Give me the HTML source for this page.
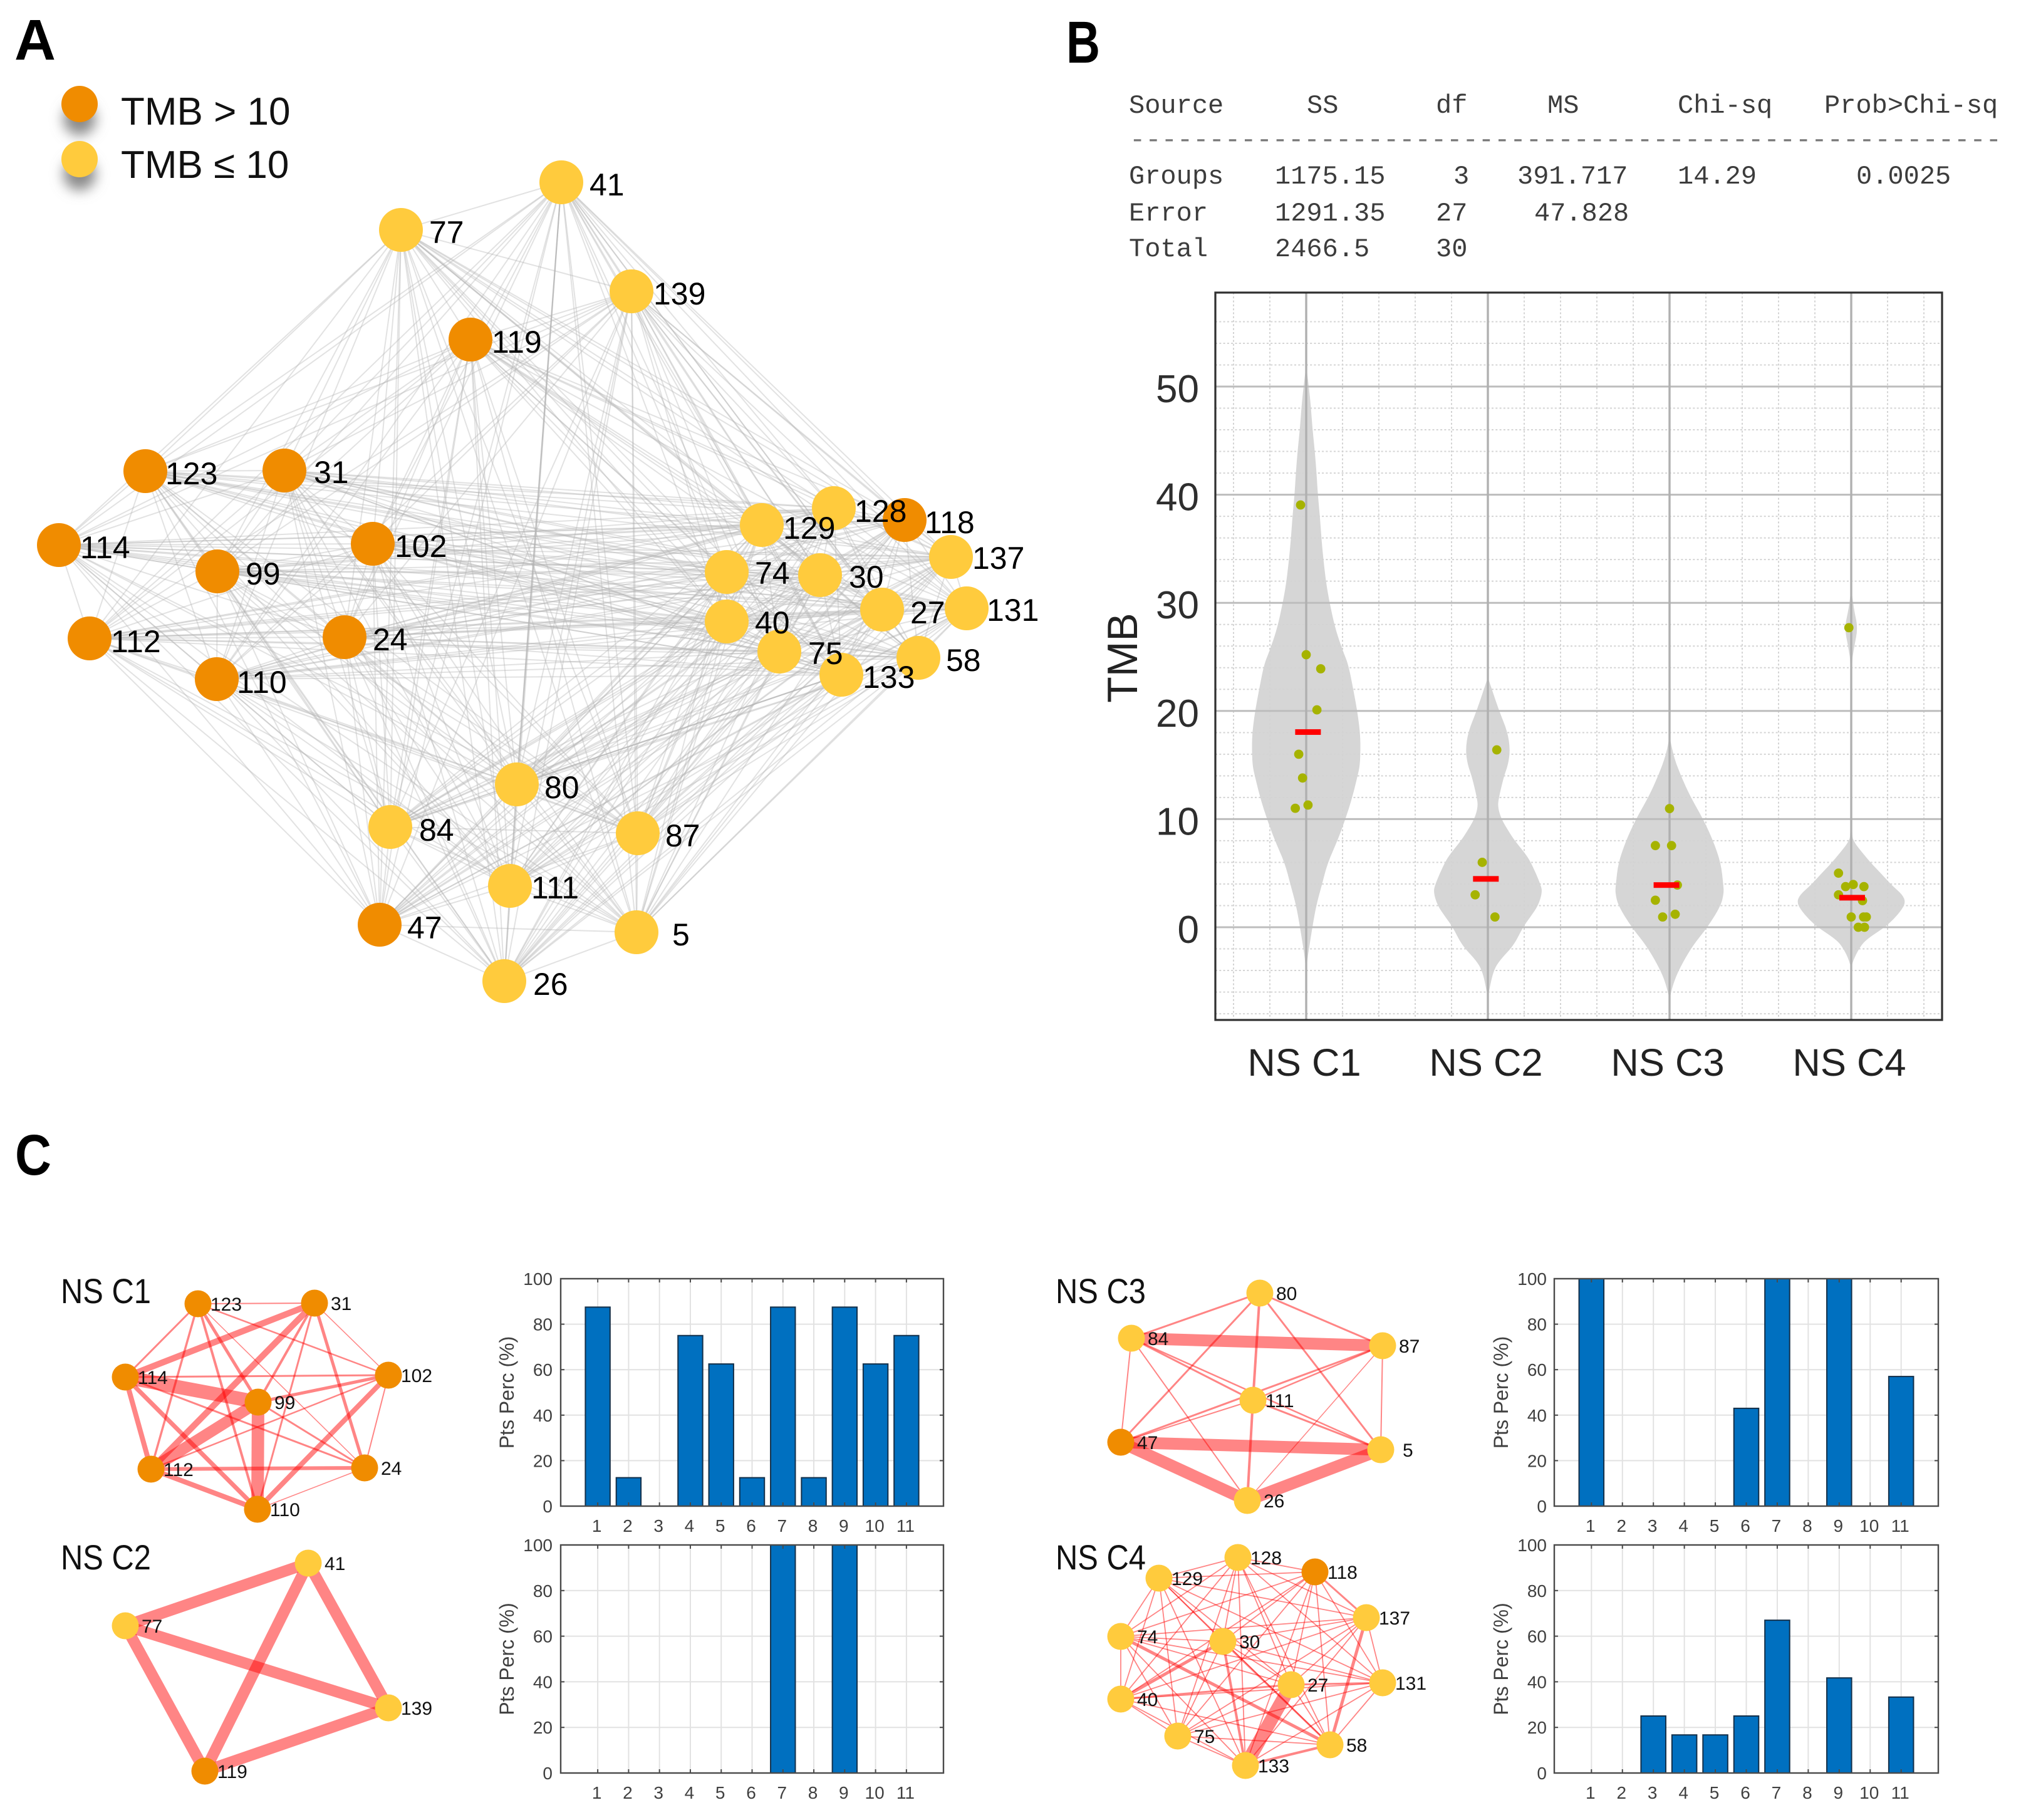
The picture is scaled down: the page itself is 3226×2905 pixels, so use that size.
<!DOCTYPE html>
<html lang="en">
<head>
<meta charset="utf-8">
<title>TMB network figure</title>
<style>
html,body{margin:0;padding:0;background:#fff;}
svg{display:block;font-family:"Liberation Sans",sans-serif;}
</style>
</head>
<body>
<svg id="figure" xmlns="http://www.w3.org/2000/svg" width="3226" height="2905" viewBox="0 0 3226 2905">
  <defs>
    <filter id="legend-blur" x="-80%" y="-80%" width="260%" height="260%"><feGaussianBlur stdDeviation="10"/></filter>
  </defs>
  <rect x="0" y="0" width="3226" height="2905" fill="#ffffff"/>

  <text x="23" y="95" font-size="92" font-weight="700" fill="#000" textLength="66" lengthAdjust="spacingAndGlyphs">A</text>
  <text x="1702" y="100" font-size="95" font-weight="700" fill="#000" textLength="54" lengthAdjust="spacingAndGlyphs">B</text>
  <text x="24" y="1875" font-size="92" font-weight="700" fill="#000" textLength="58" lengthAdjust="spacingAndGlyphs">C</text>

  <g id="panel-a"></g>

  <g>
    <circle cx="127" cy="190" r="26" fill="#8a8a8a" filter="url(#legend-blur)"/>
    <circle cx="127" cy="278" r="26" fill="#8a8a8a" filter="url(#legend-blur)"/>
    <circle cx="127" cy="166" r="29" fill="#F08C00"/>
    <circle cx="127" cy="254" r="29" fill="#FFCB3D"/>
    <text x="193" y="199" font-size="62" fill="#111">TMB &gt; 10</text>
    <text x="193" y="284" font-size="62" fill="#111">TMB ≤ 10</text>
  </g>

  <g font-family="'Liberation Mono',monospace" font-size="42" fill="#3c3c3c">
    <text x="1802" y="180">Source</text>
    <text x="2086" y="180">SS</text>
    <text x="2292" y="180">df</text>
    <text x="2470" y="180">MS</text>
    <text x="2678" y="180">Chi-sq</text>
    <text x="2912" y="180">Prob&gt;Chi-sq</text>
    <text x="1803" y="235" fill="#777" textLength="1392" lengthAdjust="spacingAndGlyphs">-------------------------------------------------------</text>
    <text x="1802" y="293">Groups</text>
    <text x="2035" y="293">1175.15</text>
    <text x="2320" y="293">3</text>
    <text x="2422" y="293">391.717</text>
    <text x="2678" y="293">14.29</text>
    <text x="2963" y="293">0.0025</text>
    <text x="1802" y="352">Error</text>
    <text x="2035" y="352">1291.35</text>
    <text x="2292" y="352">27</text>
    <text x="2449" y="352">47.828</text>
    <text x="1802" y="409">Total</text>
    <text x="2035" y="409">2466.5</text>
    <text x="2292" y="409">30</text>
  </g>

  <g id="panel-b"></g>
  <text transform="translate(1815 1050) rotate(-90)" text-anchor="middle" font-size="68" fill="#222">TMB</text>

  <text x="97" y="2080" font-size="56" fill="#111" textLength="144" lengthAdjust="spacingAndGlyphs">NS C1</text>
  <text x="97" y="2505" font-size="56" fill="#111" textLength="144" lengthAdjust="spacingAndGlyphs">NS C2</text>
  <text x="1685" y="2080" font-size="56" fill="#111" textLength="144" lengthAdjust="spacingAndGlyphs">NS C3</text>
  <text x="1685" y="2505" font-size="56" fill="#111" textLength="144" lengthAdjust="spacingAndGlyphs">NS C4</text>
  <g id="panel-c-networks"></g>
  <g id="panel-c-bars"></g>
</svg>

<script>
/* ---------- panel A: whole network ---------- */
const overviewNodes = [
  ['41',896,291,0,941,312],['77',640,367,0,685,388],['139',1008,465,0,1043,486],['119',751,542,1,785,563],
  ['123',232,752,1,264,773],['31',454,751,1,501,771],['114',94,870,1,128,891],['102',595,868,1,630,889],
  ['99',347,912,1,392,933],['112',143,1019,1,177,1041],['24',550,1017,1,595,1038],['110',346,1084,1,378,1106],
  ['129',1216,838,0,1250,860],['128',1331,811,0,1364,833],['118',1444,830,1,1476,851],['137',1518,889,0,1552,908],
  ['74',1160,913,0,1205,932],['30',1309,918,0,1355,938],['27',1408,973,0,1453,995],['131',1543,971,0,1575,991],
  ['40',1160,992,0,1205,1011],['75',1244,1040,0,1290,1060],['133',1343,1077,0,1377,1098],['58',1466,1050,0,1510,1071],
  ['80',825,1252,0,869,1274],['84',623,1320,0,669,1342],['87',1018,1330,0,1062,1351],['111',814,1414,0,848,1434],
  ['47',606,1476,1,650,1498],['5',1016,1488,0,1073,1509],['26',805,1566,0,851,1588]
];
const overviewStrongEdges = [['41','80'],['80','133']];

/* ---------- panel B: violin chart ---------- */
const violinCategories = ['NS C1','NS C2','NS C3','NS C4'];
const violinYTicks = [0,10,20,30,40,50];
const c1Levels = [52,49.9,48.3,46.2,44.1,42,40,37.9,35.9,33.8,31.7,30,27.6,25.5,24.3,22,20,18.1,16.7,15,14,11.9,10,8,5.9,3.9,2,0,-1.7,-3,-4.4];
const c1Widths = [0,.015,.025,.034,.047,.057,.064,.076,.084,.096,.111,.129,.16,.203,.232,.259,.281,.296,.299,.296,.283,.252,.216,.172,.117,.086,.055,.034,.018,.006,0];
const c2Levels = [23.1,22,20,18.1,16.4,15,14,11.9,11.1,10,8.8,8,6.75,5.9,3.9,3.2,2,.95,0,-1.7,-3,-4,-5.9,-6.7];
const c2Widths = [0,.022,.062,.108,.123,.111,.089,.059,.055,.074,.117,.148,.209,.24,.292,.299,.277,.234,.193,.142,.068,.031,.006,0];
const c3Levels = [17.7,16,14,12,10,8,5.9,3.9,3.2,2,0,-1.8,-4,-5.5,-6.7];
const c3Widths = [0,.018,.062,.117,.185,.24,.283,.296,.299,.283,.209,.123,.049,.015,0];
const c4Levels = [31.4,29.5,27.7,26,24.2,8.6,7.8,6.75,5.9,4.7,3.9,3,2.3,1.6,.75,0,-1.1,-1.8,-3,-3.8];
const c4Widths = [0,.013,.037,.017,0,0,.018,.068,.111,.179,.222,.283,.299,.277,.234,.185,.086,.049,.012,0];
const c1PointValues = [39.05,25.2,23.9,20.1,16,13.8,11.3,11];
const c1PointJitter = [-.031,0,.08,.059,-.041,-.02,.01,-.06];
const c2PointValues = [16.4,6,3,.95];
const c2PointJitter = [.049,-.031,-.07,.039];
const c3PointValues = [10.97,7.55,7.55,3.9,2.5,1.2,.95];
const c3PointJitter = [0,-.078,.011,.043,-.078,.031,-.038];
const c4PointValues = [27.7,5,3.95,3.76,3.76,3,2.46,.95,.95,.95,0,0];
const c4PointJitter = [-.013,-.07,.011,-.031,.07,-.07,.062,0,.068,.083,.039,.073];
const violinMedians = [18.05,4.47,3.9,2.73];
const medianOffsets = [.01,-.011,-.017,.005];

/* ---------- panel C: cluster networks ---------- */
const nsC1Nodes = [['123',316,2081,1],['31',502,2080,1],['114',200,2198,1],['102',620,2195,1],['99',412,2238,1],['112',241,2345,1],['24',582,2343,1],['110',411,2409,1]];
const nsC1Edges = [['123','31',2],['123','114',3],['123','112',3.5],['123','99',5],['123','110',4],['123','102',2.5],['123','24',1.5],
  ['31','114',10],['31','112',10],['31','99',4],['31','110',3],['31','102',1.5],['31','24',5],['114','102',3],['114','99',22],['114','112',8],
  ['114','110',7],['114','24',3],['99','102',5],['99','112',18],['99','110',20],['99','24',3],['102','112',2.5],['102','24',2],['102','110',8],
  ['112','24',6],['112','110',8],['24','110',1.5]];
const nsC2Nodes = [['41',492,2495,0],['77',200,2595,0],['139',620,2726,0],['119',327,2827,1]];
const nsC2Edges = [['41','77',18],['41','139',18],['41','119',18],['77','139',18],['77','119',18],['139','119',18]];
const nsC3Nodes = [['80',2011,2064,0],['84',1806,2136,0],['87',2207,2148,0],['111',2000,2235,0],['47',1789,2302,1],['5',2204,2314,0],['26',1991,2395,0]];
const nsC3Edges = [['84','87',19],['47','5',19],['47','26',19],['5','26',19],['80','84',3],['80','87',3],['80','111',4],['80','47',3],['80','5',3],
  ['84','111',3],['84','47',2],['84','26',2],['84','5',2.5],['87','111',2.5],['87','47',3],['87','5',2],['87','26',1.5],['111','47',2],['111','5',3],['111','26',4]];
const nsC4Nodes = [['128',1976,2486,0],['129',1850,2519,0],['118',2099,2509,1],['137',2181,2582,0],['74',1789,2612,0],['30',1952,2620,0],
  ['27',2061,2689,0],['131',2207,2686,0],['40',1789,2712,0],['75',1880,2771,0],['133',1988,2818,0],['58',2123,2785,0]];
const nsC4Heavy = [['27','133',21],['30','40',5],['74','58',5],['30','133',4],['137','58',5],['30','58',3],['118','137',3],['133','58',4],['27','131',3],['40','27',3]];
const nsC4DefaultWeight = 1.8;

/* ---------- panel C: bar charts ---------- */
const barCategories = [1,2,3,4,5,6,7,8,9,10,11];
const barYTicks = [0,20,40,60,80,100];
const nsC1Bars = [87.5,12.5,0,75,62.5,12.5,87.5,12.5,87.5,62.5,75];
const nsC2Bars = [0,0,0,0,0,0,100,0,100,0,0];
const nsC3Bars = [100,0,0,0,0,43,100,0,100,0,57];
const nsC4Bars = [0,0,25,16.7,16.7,25,67,0,41.7,0,33.3];

const NS = 'http://www.w3.org/2000/svg';
function mk(tag, attrs, parent) {
  const el = document.createElementNS(NS, tag);
  for (const k in attrs) el.setAttribute(k, attrs[k]);
  parent.appendChild(el);
  return el;
}
const HIGH = '#F08C00', LOW = '#FFCB3D';

/* panel A */
(function () {
  const g = document.getElementById('panel-a');
  const byLabel = {};
  overviewNodes.forEach(n => { byLabel[n[0]] = n; });
  for (let i = 0; i < overviewNodes.length; i++) {
    for (let j = i + 1; j < overviewNodes.length; j++) {
      const a = overviewNodes[i], b = overviewNodes[j];
      const line = mk('line', {x1:a[1], y1:a[2], x2:b[1], y2:b[2], stroke:'#b4b4b4', 'stroke-width':2, 'stroke-opacity':.38}, g);
      
      
    }
  }
  overviewStrongEdges.forEach(e => {
    const a = byLabel[e[0]], b = byLabel[e[1]];
    const line = mk('line', {x1:a[1], y1:a[2], x2:b[1], y2:b[2], stroke:'#b4b4b4', 'stroke-width':2.2, 'stroke-opacity':.55}, g);
    
    
  });
  overviewNodes.forEach(n => {
    const c = mk('circle', {cx:n[1], cy:n[2], r:35, fill:n[3] ? HIGH : LOW}, g);
    
    
  });
  overviewNodes.forEach(n => {
    const t = mk('text', {x:n[4], y:n[5], 'font-size':50, fill:'#000'}, g);
    t.textContent = n[0];
    
    
  });
})();

/* panel B */
(function () {
  const g = document.getElementById('panel-b');
  const L = 1940, R = 3100, T = 467, B = 1628;
  const xScale = c => L + (c - 0.5) / 4 * (R - L);
  const yScale = v => 1480 - 17.26 * v;

  for (let v = -8; v <= 56; v += 2) {
    if (v % 10 === 0) continue;
    const l = mk('line', {x1:L, x2:R, y1:yScale(v), y2:yScale(v), stroke:'#d4d4d4', 'stroke-width':2, 'stroke-dasharray':'3 3.3'}, g);
    
    
  }
  for (let c = 0.6; c < 4.5; c += 0.2) {
    const l = mk('line', {x1:xScale(c), x2:xScale(c), y1:T, y2:B, stroke:'#d4d4d4', 'stroke-width':2, 'stroke-dasharray':'3 3.3'}, g);
    
    
  }

  const levels = [c1Levels, c2Levels, c3Levels, c4Levels];
  const widths = [c1Widths, c2Widths, c3Widths, c4Widths];
  const pointValues = [c1PointValues, c2PointValues, c3PointValues, c4PointValues];
  const pointJitter = [c1PointJitter, c2PointJitter, c3PointJitter, c4PointJitter];

  function smooth(pts) {
    let d = 'M' + pts[0][0] + ' ' + pts[0][1];
    for (let i = 1; i < pts.length - 1; i++) {
      const mx = (pts[i][0] + pts[i + 1][0]) / 2, my = (pts[i][1] + pts[i + 1][1]) / 2;
      d += ' Q' + pts[i][0] + ' ' + pts[i][1] + ' ' + mx + ' ' + my;
    }
    d += ' L' + pts[pts.length - 1][0] + ' ' + pts[pts.length - 1][1];
    return d;
  }
  levels.forEach((lv, i) => {
    const c = i + 1;
    const right = lv.map((v, k) => [xScale(c + widths[i][k]), yScale(v)]);
    const left = lv.map((v, k) => [xScale(c - widths[i][k]), yScale(v)]);
    const d = smooth(right) + ' ' + smooth(left.slice().reverse()).replace('M', 'L') + ' Z';
    const p = mk('path', {d:d, fill:'#d3d3d3', 'fill-opacity':.92}, g);
    
    
  });

  violinYTicks.forEach(v => {
    const l = mk('line', {x1:L, x2:R, y1:yScale(v), y2:yScale(v), stroke:'#bdbdbd', 'stroke-width':3}, g);
    
    
    const t = mk('text', {x:1914, y:yScale(v) + 25, 'text-anchor':'end', 'font-size':62, fill:'#2e2e2e'}, g);
    t.textContent = String(v);
    
    
  });
  violinCategories.forEach((name, i) => {
    const l = mk('line', {x1:xScale(i + 1), x2:xScale(i + 1), y1:T, y2:B, stroke:'#b0b0b0', 'stroke-width':3.4}, g);
    
    
    const t = mk('text', {x:xScale(i + 1) - 3, y:1717, 'text-anchor':'middle', 'font-size':61.5, fill:'#222'}, g);
    t.textContent = name;
    
    
  });

  pointValues.forEach((vals, i) => {
    vals.forEach((v, k) => {
      const e = mk('circle', {cx:xScale(i + 1 + pointJitter[i][k]), cy:yScale(v), r:7.4, fill:'#A6B300'}, g);
      
      
    });
  });
  violinMedians.forEach((v, i) => {
    const cx = xScale(i + 1 + medianOffsets[i]);
    const r = mk('rect', {x:cx - 20.5, y:yScale(v) - 4.5, width:41, height:9, fill:'#FF0000'}, g);
    
    
  });
  const frame = mk('rect', {x:L, y:T, width:R - L, height:B - T, fill:'none', stroke:'#303030', 'stroke-width':3.2}, g);
  
  
})();

/* panel C networks */
function drawCluster(nodes, edges, key) {
  const host = document.getElementById('panel-c-networks');
  const g = mk('g', {}, host);
  
  
  const byLabel = {};
  nodes.forEach(n => { byLabel[n[0]] = n; });
  edges.forEach(e => {
    const a = byLabel[e[0]], b = byLabel[e[1]];
    const line = mk('line', {x1:a[1], y1:a[2], x2:b[1], y2:b[2], stroke:'#FF0000', 'stroke-width':e[2], 'stroke-opacity':.48}, g);
    
    
  });
  nodes.forEach(n => {
    const c = mk('circle', {cx:n[1], cy:n[2], r:21.5, fill:n[3] ? HIGH : LOW}, g);
    
    
  });
  nodes.forEach(n => {
    const off = n[0].length === 3 ? 20 : (n[0].length === 2 ? 26 : 35);
    const t = mk('text', {x:n[1] + off, y:n[2] + 11, 'font-size':30, fill:'#111'}, g);
    t.textContent = n[0];
    
    
  });
}
function completeEdges(nodes, heavy, base) {
  const out = [];
  for (let i = 0; i < nodes.length; i++) {
    for (let j = i + 1; j < nodes.length; j++) {
      const a = nodes[i][0], b = nodes[j][0];
      const h = heavy.find(e => (e[0] === a && e[1] === b) || (e[0] === b && e[1] === a));
      out.push([a, b, h ? h[2] : base]);
    }
  }
  return out;
}
drawCluster(nsC1Nodes, nsC1Edges, 'ns-c1');
drawCluster(nsC2Nodes, nsC2Edges, 'ns-c2');
drawCluster(nsC3Nodes, nsC3Edges, 'ns-c3');
drawCluster(nsC4Nodes, completeEdges(nsC4Nodes, nsC4Heavy, nsC4DefaultWeight), 'ns-c4');

/* panel C bars */
function drawBars(values, key, L, R, T, B, labelRight, titleX) {
  const host = document.getElementById('panel-c-bars');
  const g = mk('g', {}, host);
  
  
  const xScale = c => L + (c + 0.2) / 12.4 * (R - L);
  const yScale = v => B - v / 100 * (B - T);
  const barW = 0.8 * (R - L) / 12.4;

  barCategories.forEach(c => {
    const l = mk('line', {x1:xScale(c), x2:xScale(c), y1:T, y2:B, stroke:'#e2e2e2', 'stroke-width':2}, g);
    
    
  });
  barYTicks.forEach(v => {
    const l = mk('line', {x1:L, x2:R, y1:yScale(v), y2:yScale(v), stroke:'#e2e2e2', 'stroke-width':2}, g);
    
    
  });
  values.forEach((v, i) => {
    const c = barCategories[i];
    const r = mk('rect', {x:xScale(c) - barW / 2, y:yScale(v), width:barW, height:B - yScale(v), fill:'#0070C0', stroke:'#14304a', 'stroke-width':2}, g);
    
    
  });
  const frame = mk('rect', {x:L, y:T, width:R - L, height:B - T, fill:'none', stroke:'#4a4a4a', 'stroke-width':2.4}, g);
  
  
  barCategories.forEach(c => {
    const tb = mk('line', {x1:xScale(c), x2:xScale(c), y1:B, y2:B - 6, stroke:'#4a4a4a', 'stroke-width':2}, g);
    
    
    const tt = mk('line', {x1:xScale(c), x2:xScale(c), y1:T, y2:T + 6, stroke:'#4a4a4a', 'stroke-width':2}, g);
    
    
    const t = mk('text', {x:xScale(c) - 1.5, y:B + 41, 'text-anchor':'middle', 'font-size':28, fill:'#404040'}, g);
    t.textContent = String(c);
    
    
  });
  barYTicks.forEach(v => {
    const tl = mk('line', {x1:L, x2:L + 6, y1:yScale(v), y2:yScale(v), stroke:'#4a4a4a', 'stroke-width':2}, g);
    
    
    const tr = mk('line', {x1:R, x2:R - 6, y1:yScale(v), y2:yScale(v), stroke:'#4a4a4a', 'stroke-width':2}, g);
    
    
    const t = mk('text', {x:labelRight, y:yScale(v) + 10, 'text-anchor':'end', 'font-size':28, fill:'#404040'}, g);
    t.textContent = String(v);
    
    
  });
  const title = mk('text', {transform:'translate(' + titleX + ' ' + (T + B) / 2 + ') rotate(-90)', 'text-anchor':'middle', 'font-size':32, fill:'#404040'}, g);
  title.textContent = 'Pts Perc (%)';
  
  
}
drawBars(nsC1Bars, 'ns-c1', 895, 1506, 2041, 2404, 882, 820);
drawBars(nsC2Bars, 'ns-c2', 895, 1506, 2466, 2830, 882, 820);
drawBars(nsC3Bars, 'ns-c3', 2481, 3094, 2041, 2404, 2469, 2407);
drawBars(nsC4Bars, 'ns-c4', 2481, 3094, 2466, 2830, 2469, 2407);
</script>
</body>
</html>
